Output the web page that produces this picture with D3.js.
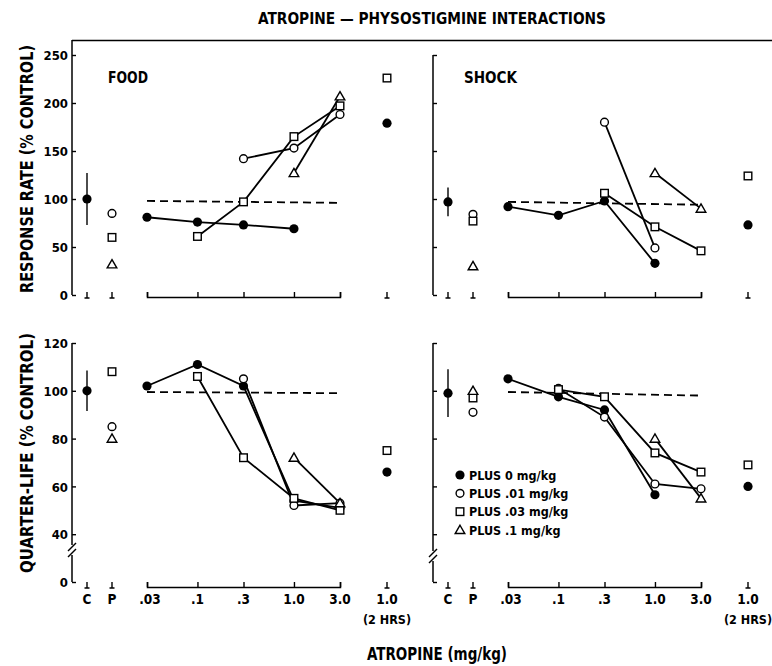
<!DOCTYPE html>
<html><head><meta charset="utf-8">
<script src="https://cdn.jsdelivr.net/npm/d3@7"></script>
<style>
body{margin:0;background:#fff;}
svg text{font-family:"DejaVu Sans Condensed","DejaVu Sans",sans-serif;font-stretch:condensed;font-weight:bold;fill:#000;}
</style></head><body>
<svg id="c" width="772" height="666"></svg>
<script>
// ---- data ----
const doses = [0.03, 0.1, 0.3, 1.0, 3.0];
const doseLabels = [".03", ".1", ".3", "1.0", "3.0"];
const extraCats = ["C", "P", "2HRS"];
const extraLabels = ["C", "P", "1.0"];
const seriesNames = ["PLUS 0 mg/kg", "PLUS .01 mg/kg", "PLUS .03 mg/kg", "PLUS .1 mg/kg"];
const seriesShapes = ["filled", "circle", "square", "triangle"];
const rateTicks = [0, 50, 100, 150, 200, 250];
const qlTicks = [20, 40, 60, 80, 100, 120]; // 20 position is labelled "0" (broken axis)

// FOOD – response rate (rows = series, cols = doses)
const foodRate = [
  [81, 76, 73, 69, null],
  [null, null, 142, 153, 188],
  [null, 61, 97, 165, 197],
  [null, null, null, 127, 207]
];
const foodRateControl = [100, 27];       // mean, error
const foodRatePhyso = [null, 85, 60, 32];
const foodRate2h = [179, null, 226, null];
const foodRateDashed = [98, 96];

// SHOCK – response rate
const shockRate = [
  [92, 83, 98, 33, null],
  [null, null, 180, 49, null],
  [null, null, 106, 71, 46],
  [null, null, null, 127, 90]
];
const shockRateControl = [97, 15];
const shockRatePhyso = [null, 84, 77, 30];
const shockRate2h = [73, null, 124, null];
const shockRateDashed = [97, 94];

// FOOD – quarter-life
const foodQL = [
  [102, 111, 102, 54, 51],
  [null, null, 105, 52, 53],
  [null, 106, 72, 55, 50],
  [null, null, null, 72, 53]
];
const foodQLControl = [100, 8.5];
const foodQLPhyso = [null, 85, 108, 80];
const foodQL2h = [66, null, 75, null];
const foodQLDashed = [99.5, 99];

// SHOCK – quarter-life
const shockQL = [
  [105, 97.5, 92, 56.5, null],
  [null, 101, 89, 61, 59],
  [null, 100.5, 97.5, 74, 66],
  [null, null, null, 80, 55]
];
const shockQLControl = [99, 10];
const shockQLPhyso = [null, 91, 97, 100];
const shockQL2h = [60, null, 69, null];
const shockQLDashed = [99.5, 98];

// ---- drawing ----
const svg = d3.select("#c");
const INK = "#000";

const rateY = d3.scaleLinear().domain([0, 250]).range([295, 55]);
const qlY = d3.scaleLinear().domain([20, 120]).range([582, 343]);

function xScales(x0) {
  return {
    log: d3.scaleLog().domain([0.03, 3]).range([x0 + 75, x0 + 268]),
    cat: d3.scaleOrdinal().domain(extraCats).range([x0 + 15, x0 + 40, x0 + 315])
  };
}

function symbol(g, shape, cx, cy) {
  if (shape === "filled") {
    g.append("circle").attr("cx", cx).attr("cy", cy).attr("r", 4.6).attr("fill", INK);
  } else if (shape === "circle") {
    g.append("circle").attr("cx", cx).attr("cy", cy).attr("r", 3.9)
      .attr("fill", "#fff").attr("stroke", INK).attr("stroke-width", 1.4);
  } else if (shape === "square") {
    g.append("rect").attr("x", cx - 3.8).attr("y", cy - 3.8).attr("width", 7.6).attr("height", 7.6)
      .attr("fill", "#fff").attr("stroke", INK).attr("stroke-width", 1.4);
  } else {
    g.append("path").attr("d", d3.symbol().type(d3.symbolTriangle).size(40)())
      .attr("transform", `translate(${cx},${cy + 0.8})`)
      .attr("fill", "#fff").attr("stroke", INK).attr("stroke-width", 1.4);
  }
}

function panel(opt) {
  const { x0, y, top, data, control, physo, twoh, dashed, title, showLabels, showTickLabels } = opt;
  const { log: x, cat } = xScales(x0);
  const g = svg.append("g");
  const base = top ? 297 : 587;

  // y axis ticks
  const yAxis = d3.axisLeft(y).tickValues(top ? rateTicks : qlTicks).tickSize(-4).tickPadding(4)
    .tickFormat(showTickLabels ? (d => (!top && d === 20) ? "0" : d) : "");
  const ya = g.append("g").attr("transform", `translate(${x0},0)`).call(yAxis);
  ya.select(".domain").remove();
  ya.selectAll("line").attr("stroke", INK).attr("stroke-width", 1.4);
  ya.selectAll("text").style("font-size", "13px").attr("dy", "0.36em");

  // y axis line
  const yTop = top ? (showTickLabels ? 40 : y(250)) : y(120);
  const yBot = top ? y(0) : y(20);
  if (top) {
    g.append("line").attr("x1", x0).attr("x2", x0).attr("y1", yTop).attr("y2", yBot)
      .attr("stroke", INK).attr("stroke-width", 1.5);
  } else {
    const bk = showTickLabels ? 550 : 556;
    g.append("line").attr("x1", x0).attr("x2", x0).attr("y1", yTop).attr("y2", bk - 5)
      .attr("stroke", INK).attr("stroke-width", 1.5);
    g.append("line").attr("x1", x0).attr("x2", x0).attr("y1", bk + 5).attr("y2", yBot)
      .attr("stroke", INK).attr("stroke-width", 1.5);
    [-3, 3].forEach(o => g.append("line")
      .attr("x1", x0 - 4).attr("y1", bk + o + 4).attr("x2", x0 + 4).attr("y2", bk + o - 4)
      .attr("stroke", INK).attr("stroke-width", 1.5));
  }

  // x axis: log segment
  const xa = g.append("g").attr("transform", `translate(0,${base})`)
    .call(d3.axisTop(x).tickValues(doses).tickSize(5).tickSizeOuter(5).tickFormat(""));
  xa.select(".domain").attr("stroke", INK).attr("stroke-width", 1.5);
  xa.selectAll("line").attr("stroke", INK).attr("stroke-width", 1.4);

  // x axis: inverted-T markers for C, P, 2HRS
  extraCats.forEach(c => {
    const cx = cat(c);
    g.append("line").attr("x1", cx).attr("x2", cx).attr("y1", base - 5).attr("y2", base + 1)
      .attr("stroke", INK).attr("stroke-width", 1.4);
    g.append("line").attr("x1", cx - 2.5).attr("x2", cx + 2.5).attr("y1", base + 1).attr("y2", base + 1)
      .attr("stroke", INK).attr("stroke-width", 1.5);
  });

  if (showLabels) {
    const ly = 604;
    extraCats.forEach((c, i) => g.append("text").attr("x", cat(c)).attr("y", ly)
      .attr("text-anchor", "middle").style("font-size", "13.5px").text(extraLabels[i]));
    doses.forEach((d, i) => g.append("text").attr("x", x(d) + (i === 0 ? 3 : 0)).attr("y", ly)
      .attr("text-anchor", "middle").style("font-size", "13.5px").text(doseLabels[i]));
    g.append("text").attr("x", cat("2HRS")).attr("y", 624).attr("text-anchor", "middle")
      .style("font-size", "12.5px").text("(2 HRS)");
  }

  // dashed control line
  g.append("line").attr("x1", x(doses[0])).attr("x2", x(doses[4]))
    .attr("y1", y(dashed[0])).attr("y2", y(dashed[1]))
    .attr("stroke", INK).attr("stroke-width", 1.8).attr("stroke-dasharray", "8,5");

  // connecting lines
  const line = d3.line().defined(d => d[1] != null).x(d => x(d[0])).y(d => y(d[1]));
  data.forEach(row => {
    g.append("path").attr("d", line(doses.map((d, i) => [d, row[i]])))
      .attr("fill", "none").attr("stroke", INK).attr("stroke-width", 1.8);
  });

  // control with error bar
  const cx = cat("C");
  g.append("line").attr("x1", cx).attr("x2", cx)
    .attr("y1", y(control[0] + control[1])).attr("y2", y(control[0] - control[1]))
    .attr("stroke", INK).attr("stroke-width", 1.4);
  symbol(g, "filled", cx, y(control[0]));

  // physostigmine alone
  physo.forEach((v, i) => { if (v != null) symbol(g, seriesShapes[i], cat("P"), y(v)); });

  // series markers
  data.forEach((row, s) => row.forEach((v, i) => {
    if (v != null) symbol(g, seriesShapes[s], x(doses[i]), y(v));
  }));

  // 2 hours
  twoh.forEach((v, i) => { if (v != null) symbol(g, seriesShapes[i], cat("2HRS"), y(v)); });

  if (title) {
    g.append("text").attr("x", x0 + title.dx).attr("y", 83).style("font-size", "15px")
      .attr("textLength", title.w).attr("lengthAdjust", "spacingAndGlyphs").text(title.t);
  }
  return g;
}

// top frame line
svg.append("line").attr("x1", 72).attr("x2", 772).attr("y1", 40.5).attr("y2", 40.5)
  .attr("stroke", INK).attr("stroke-width", 1.5);

panel({ x0: 72, y: rateY, top: true, data: foodRate, control: foodRateControl, physo: foodRatePhyso,
  twoh: foodRate2h, dashed: foodRateDashed, title: { t: "FOOD", dx: 36, w: 40 }, showLabels: false, showTickLabels: true });
panel({ x0: 433, y: rateY, top: true, data: shockRate, control: shockRateControl, physo: shockRatePhyso,
  twoh: shockRate2h, dashed: shockRateDashed, title: { t: "SHOCK", dx: 31, w: 53 }, showLabels: false, showTickLabels: false });
panel({ x0: 72, y: qlY, top: false, data: foodQL, control: foodQLControl, physo: foodQLPhyso,
  twoh: foodQL2h, dashed: foodQLDashed, title: null, showLabels: true, showTickLabels: true });
const br = panel({ x0: 433, y: qlY, top: false, data: shockQL, control: shockQLControl, physo: shockQLPhyso,
  twoh: shockQL2h, dashed: shockQLDashed, title: null, showLabels: true, showTickLabels: false });

// legend
const legY = d3.scalePoint().domain(seriesNames).range([475, 530]);
seriesNames.forEach((n, i) => {
  symbol(br, seriesShapes[i], 460, legY(n));
  br.append("text").attr("x", 469).attr("y", legY(n)).attr("dy", "0.36em")
    .style("font-size", "12.5px").text(n);
});

// titles
svg.append("text").attr("x", 432).attr("y", 24).attr("text-anchor", "middle").style("font-size", "16px")
  .attr("textLength", 348).attr("lengthAdjust", "spacingAndGlyphs")
  .text("ATROPINE \u2014 PHYSOSTIGMINE INTERACTIONS");
svg.append("text").attr("x", 437).attr("y", 660).attr("text-anchor", "middle").style("font-size", "17px")
  .attr("textLength", 140).attr("lengthAdjust", "spacingAndGlyphs").text("ATROPINE (mg/kg)");
svg.append("text").attr("transform", "translate(33,169) rotate(-90)").attr("text-anchor", "middle")
  .style("font-size", "18px").attr("textLength", 248).attr("lengthAdjust", "spacingAndGlyphs")
  .text("RESPONSE RATE (% CONTROL)");
svg.append("text").attr("transform", "translate(33,453) rotate(-90)").attr("text-anchor", "middle")
  .style("font-size", "18px").attr("textLength", 240).attr("lengthAdjust", "spacingAndGlyphs")
  .text("QUARTER-LIFE (% CONTROL)");
</script>
</body></html>
